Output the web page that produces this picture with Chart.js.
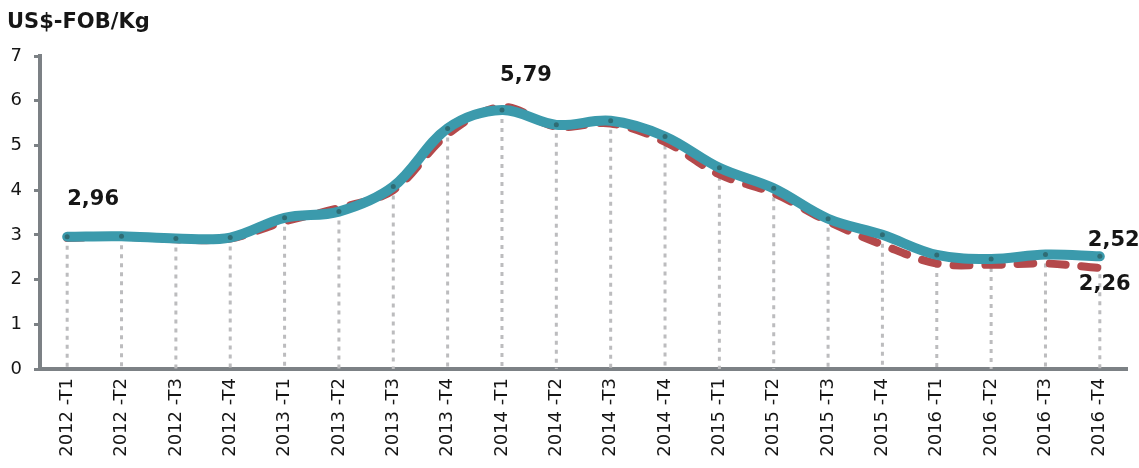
<!DOCTYPE html>
<html>
<head>
<meta charset="utf-8">
<script src="https://cdn.jsdelivr.net/npm/chart.js@4.4.1/dist/chart.umd.min.js"></script>
<style>
  html, body { margin: 0; padding: 0; background: #ffffff; }
  #wrap { width: 1139px; height: 468px; position: relative; }
</style>
</head>
<body>
<div id="wrap"><canvas id="chart" width="1139" height="468"></canvas></div>
<script>
// Quarterly export price, US$-FOB per kg
const categories = [
  '2012 -T1', '2012 -T2', '2012 -T3', '2012 -T4',
  '2013 -T1', '2013 -T2', '2013 -T3', '2013 -T4',
  '2014 -T1', '2014 -T2', '2014 -T3', '2014 -T4',
  '2015 -T1', '2015 -T2', '2015 -T3', '2015 -T4',
  '2016 -T1', '2016 -T2', '2016 -T3', '2016 -T4'
];
const seriesSolid = [2.96, 2.97, 2.92, 2.94, 3.38, 3.52, 4.08, 5.38, 5.79, 5.46,
                     5.55, 5.20, 4.50, 4.04, 3.36, 3.00, 2.55, 2.46, 2.56, 2.52];
const seriesDashed = [2.93, 2.96, 2.90, 2.92, 3.30, 3.60, 4.00, 5.25, 5.86, 5.42,
                      5.49, 5.08, 4.35, 3.93, 3.30, 2.78, 2.36, 2.33, 2.36, 2.26];
const yTicks = [0, 1, 2, 3, 4, 5, 6, 7];
const unitLabel = 'US$-FOB/Kg';

const AXIS_GREY = '#7c8185';
const TEXT = '#161616';
const FONT = '"DejaVu Sans", sans-serif';

const fmt = v => v.toFixed(2).replace('.', ',');

// Dotted drop lines from each point of the solid series to the x axis
const dropLines = {
  id: 'dropLines',
  beforeDatasetsDraw(chart) {
    const ctx = chart.ctx;
    const meta = chart.getDatasetMeta(0);
    const bottom = chart.chartArea.bottom;
    ctx.save();
    ctx.strokeStyle = '#bcbcbe';
    ctx.lineWidth = 3;
    ctx.setLineDash([4, 5]);
    meta.data.forEach(pt => {
      ctx.beginPath();
      ctx.moveTo(pt.x, pt.y);
      ctx.lineTo(pt.x, bottom);
      ctx.stroke();
    });
    ctx.restore();
  }
};

// Unit caption and value callouts
const callouts = {
  id: 'callouts',
  afterDraw(chart) {
    const ctx = chart.ctx;
    const solid = chart.getDatasetMeta(0).data;
    const dashed = chart.getDatasetMeta(1).data;
    const last = seriesSolid.length - 1;
    const peak = seriesSolid.indexOf(Math.max(...seriesSolid));
    ctx.save();
    ctx.fillStyle = TEXT;
    ctx.textBaseline = 'middle';

    ctx.font = 'bold 21px ' + FONT;
    ctx.textAlign = 'left';
    ctx.fillText(unitLabel, 7, 23);

    ctx.font = 'bold 21px ' + FONT;
    ctx.textAlign = 'left';
    ctx.fillText(fmt(seriesSolid[0]), solid[0].x, solid[0].y - 37);
    ctx.textAlign = 'center';
    ctx.fillText(fmt(seriesSolid[peak]), solid[peak].x + 24, solid[peak].y - 35);
    ctx.textAlign = 'left';
    ctx.fillText(fmt(seriesSolid[last]), solid[last].x - 12, solid[last].y - 16);
    ctx.fillText(fmt(seriesDashed[last]), dashed[last].x - 21, dashed[last].y + 17);
    ctx.restore();
  }
};

new Chart(document.getElementById('chart'), {
  type: 'line',
  data: {
    labels: categories,
    datasets: [
      {
        data: seriesSolid,
        borderColor: '#3b9aac',
        borderWidth: 10,
        tension: 0.35,
        pointRadius: 2.5,
        pointBackgroundColor: '#2f6c74',
        pointBorderWidth: 0,
        borderCapStyle: 'round',
        fill: false
      },
      {
        data: seriesDashed,
        borderColor: '#b4494b',
        borderWidth: 8,
        borderDash: [16, 16],
        borderCapStyle: 'round',
        tension: 0.35,
        pointRadius: 0,
        fill: false
      }
    ]
  },
  options: {
    responsive: false,
    animation: false,
    layout: { padding: { top: 56, right: 12, bottom: 0, left: 0 } },
    plugins: {
      legend: { display: false },
      tooltip: { enabled: false },
      title: { display: false }
    },
    scales: {
      x: {
        offset: true,
        grid: { display: true, drawOnChartArea: false, drawTicks: false },
        border: { display: true, color: AXIS_GREY, width: 4 },
        ticks: {
          color: TEXT,
          font: { family: FONT, size: 18 },
          minRotation: 90,
          maxRotation: 90,
          padding: 9,
          autoSkip: false
        },
        afterFit(scale) { scale.height = 99; }
      },
      y: {
        min: 0,
        max: 7,
        afterBuildTicks(scale) { scale.ticks = yTicks.map(v => ({ value: v })); },
        grid: {
          display: true,
          drawOnChartArea: false,
          drawTicks: true,
          tickLength: 6,
          tickWidth: 3,
          tickColor: AXIS_GREY
        },
        border: { display: true, color: AXIS_GREY, width: 4 },
        ticks: {
          color: TEXT,
          font: { family: FONT, size: 18 },
          padding: 12
        },
        afterFit(scale) { scale.width = 40; }
      }
    }
  },
  plugins: [dropLines, callouts]
});
</script>
</body>
</html>
